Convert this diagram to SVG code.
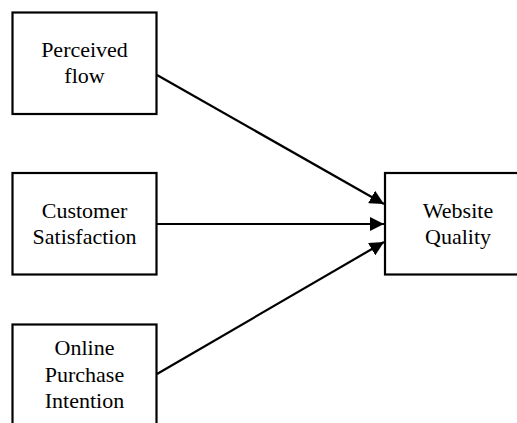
<svg xmlns="http://www.w3.org/2000/svg" width="517" height="423" viewBox="0 0 517 423">
<defs>
<style>
.box{fill:#fff;stroke:#000;stroke-width:2.2}
.t{font-family:"Liberation Serif","Times New Roman",serif;font-size:22px;fill:#000;text-anchor:middle}
.c{stroke:#000;stroke-width:2.2;fill:none}
</style>
<marker id="ah" viewBox="0 0 10 10" refX="10" refY="5" markerWidth="6.5" markerHeight="6.5" markerUnits="strokeWidth" orient="auto">
<path d="M0,0 L10,5 L0,10 z" fill="#000"/>
</marker>
</defs>
<rect width="517" height="423" fill="#fff"/>
<g id="connectors">
<line class="c" x1="157" y1="75" x2="384" y2="204" marker-end="url(#ah)"/>
<line class="c" x1="157" y1="224" x2="384" y2="224" marker-end="url(#ah)"/>
<line class="c" x1="157" y1="374" x2="384" y2="242" marker-end="url(#ah)"/>
</g>
<g id="perceived-flow">
<rect class="box" x="12.5" y="12.5" width="144" height="101.5"/>
<text class="t" x="84.5" y="57">Perceived</text>
<text class="t" x="84.5" y="83">flow</text>
</g>
<g id="customer-satisfaction">
<rect class="box" x="12.5" y="173" width="144" height="101.5"/>
<text class="t" x="84.5" y="218">Customer</text>
<text class="t" x="84.5" y="244">Satisfaction</text>
</g>
<g id="online-purchase-intention">
<rect class="box" x="12.5" y="324.5" width="144" height="110"/>
<text class="t" x="84.5" y="355">Online</text>
<text class="t" x="84.5" y="382">Purchase</text>
<text class="t" x="84.5" y="408">Intention</text>
</g>
<g id="website-quality">
<rect class="box" x="385" y="173" width="146" height="101.5"/>
<text class="t" x="458" y="218">Website</text>
<text class="t" x="458" y="244">Quality</text>
</g>
</svg>
